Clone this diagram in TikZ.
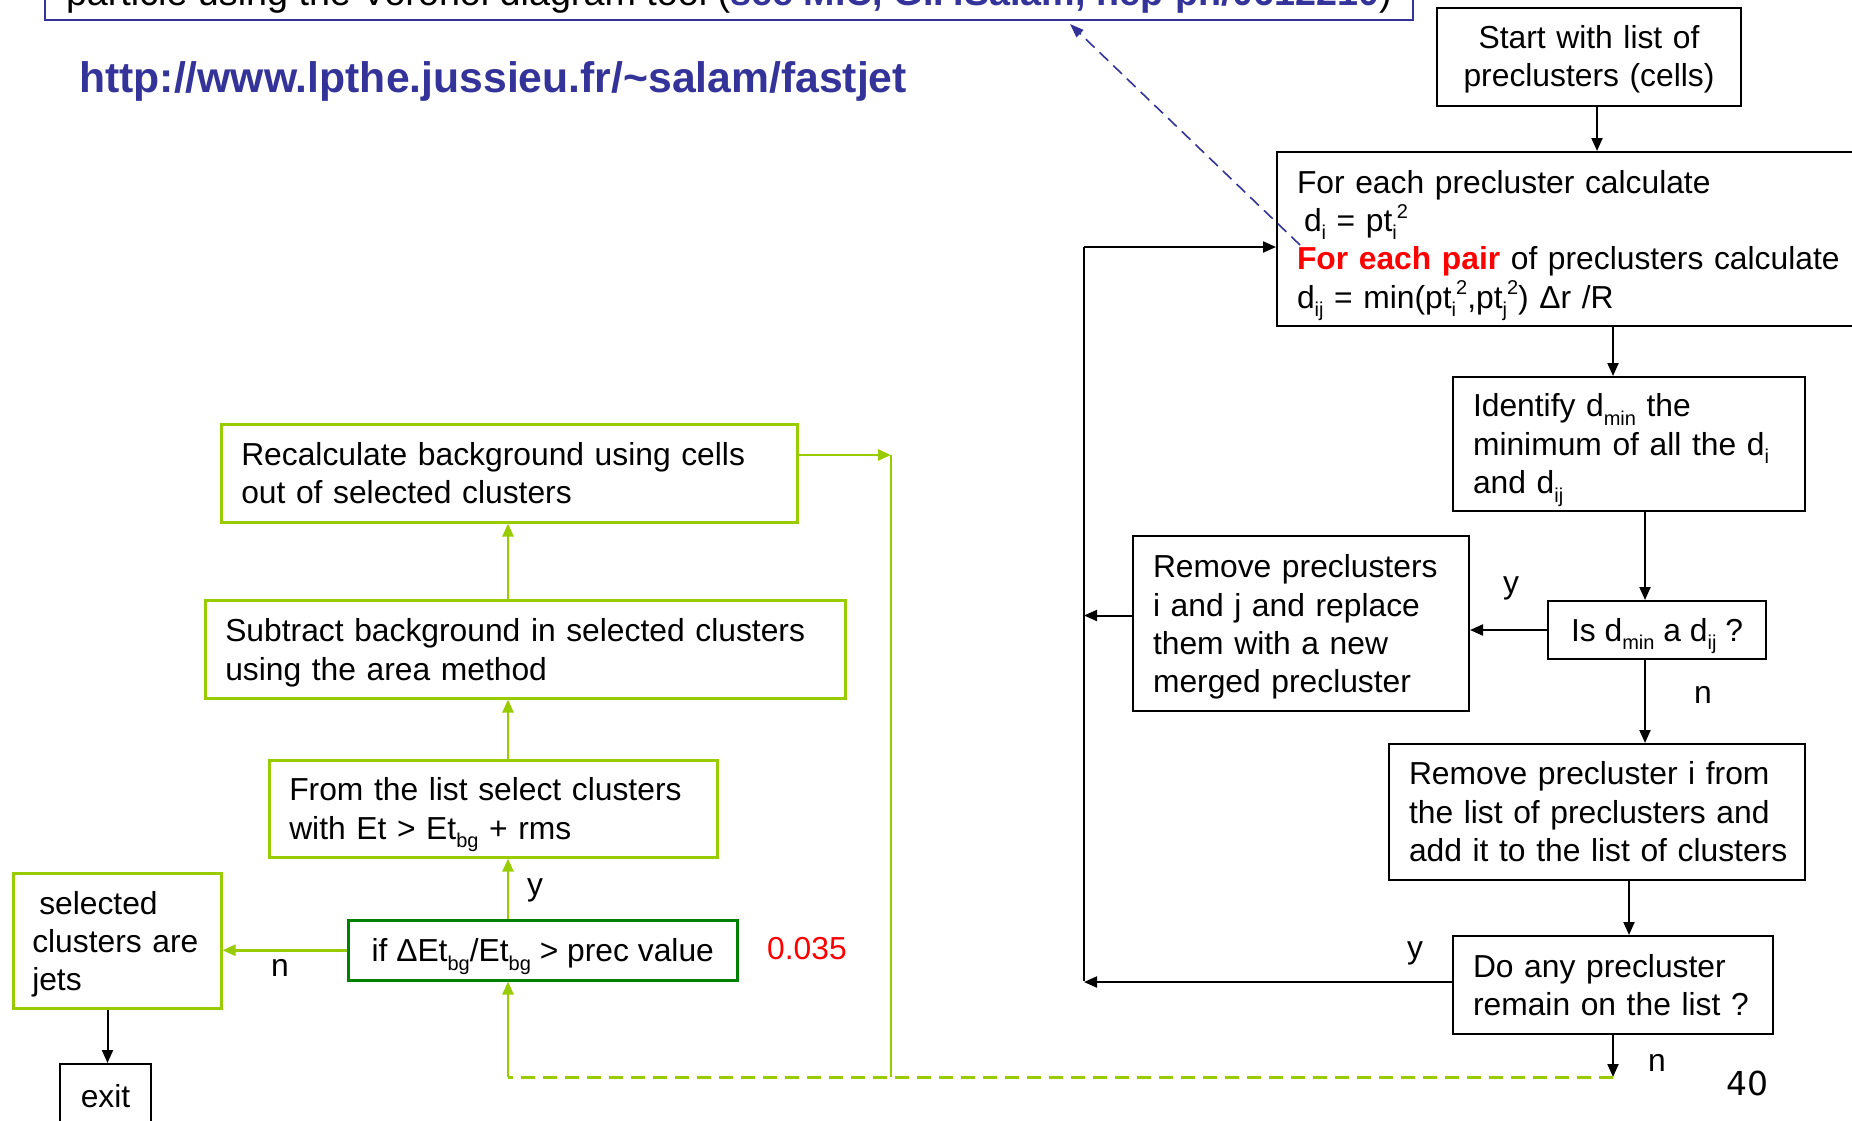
\documentclass[tikz,border=0pt]{standalone}
\usepackage{fontspec}
\setmainfont{Liberation Sans}
\newfontfamily\pagenumfont{DejaVu Sans}
\usetikzlibrary{arrows.meta,calc}

\definecolor{leaf}{RGB}{153,204,0}
\definecolor{deepgreen}{RGB}{0,128,0}
\definecolor{linkblue}{RGB}{51,51,153}
\definecolor{hotred}{RGB}{255,0,0}

% small raised / lowered indices in the body font, kept out of the line height
\newcommand\lowx[1]{\raisebox{-0.26em}[0pt][0pt]{\fontsize{20}{20}\selectfont #1}}
\newcommand\highx[1]{\raisebox{0.42em}[0pt][0pt]{\fontsize{20}{20}\selectfont #1}}
% invisible strut that lowers a centred text block a little
\newcommand\topstrut[1]{\rule{0pt}{#1}}

\tikzset{
  txt/.style={font=\fontsize{31.8}{38.4}\selectfont},
  box/.style={txt, draw=black, line width=2pt, anchor=north west,
              inner xsep=20pt, inner ysep=0pt, align=left},
  gbox/.style={box, draw=leaf, line width=2.5pt},
  arr/.style={draw=black, line width=2pt, -{Triangle[length=13pt,width=11pt]}},
  plainline/.style={draw=black, line width=2pt},
  garr/.style={draw=leaf, line width=2.5pt, -{Triangle[length=13pt,width=11pt]}},
  gline/.style={draw=leaf, line width=2.5pt},
  gdash/.style={draw=leaf, line width=3pt, dash pattern=on 14pt off 8pt},
  bdash/.style={draw=linkblue, line width=1.6pt, dash pattern=on 12pt off 7pt,
                -{Triangle[length=14pt,width=10pt]}},
  lbl/.style={txt, inner sep=0pt},
}

\begin{document}
\begin{tikzpicture}[x=1pt, y=-1pt]
\useasboundingbox (0,0) rectangle (1852,1120);
\clip (0,0) rectangle (1852,1120);

% note frame running off the top edge
\node[draw=linkblue, line width=2pt, anchor=south west, minimum width=1359pt,
      inner xsep=21pt, inner ysep=7pt, font=\fontsize{37.7}{44}\selectfont]
  (note) at (44,21)
  {particle using the Voronoi diagram tool (\textcolor{linkblue}{\bfseries see M.C, G.P.Salam, hep-ph/0612210})};

\node[anchor=base west, inner sep=0pt, text=linkblue,
      font=\fontsize{42.7}{50}\selectfont\bfseries] (url) at (79,92)
  {http://www.lpthe.jussieu.fr/\textasciitilde salam/fastjet};

% clustering loop
\node[box, text width=264pt, minimum height=98pt, align=center] (start) at (1436,7)
  {\topstrut{28pt}Start with list of\\preclusters (cells)};
\node[box, text width=560pt, minimum height=174pt] (calc) at (1276,151)
  {\topstrut{30pt}For each precluster calculate\\
   \hspace*{7pt}d\lowx{i} = pt\lowx{i}\highx{2}\\
   \mbox{\textcolor{hotred}{\bfseries For each pair} of preclusters calculate}\\
   \mbox{d\lowx{ij} = min(pt\lowx{i}\highx{2},pt\lowx{j}\highx{2}) Δr /R}};
\node[box, text width=312pt, minimum height=134pt] (ident) at (1452,376)
  {Identify d\lowx{min} the\\\mbox{minimum of all the d\lowx{i}}\\and d\lowx{ij}};
\node[box, minimum width=218pt, minimum height=58pt, align=center] (isd) at (1547,600)
  {Is d\lowx{min} a d\lowx{ij} ?};
\node[box, text width=296pt, minimum height=175pt] (merge) at (1132,535)
  {\topstrut{30pt}\mbox{Remove preclusters}\\i and j and replace\\them with a new\\\mbox{merged precluster}};
\node[box, text width=376pt, minimum height=136pt] (move) at (1388,743)
  {\mbox{Remove precluster i from}\\\mbox{the list of preclusters and}\\\mbox{add it to the list of clusters}};
\node[box, text width=280pt, minimum height=98pt] (remain) at (1452,935)
  {Do any precluster\\\mbox{remain on the list ?}};

% background subtraction loop
\node[gbox, text width=536pt, minimum height=98pt] (recalc) at (220,423)
  {Recalculate background using cells\\out of selected clusters};
\node[gbox, text width=600pt, minimum height=98pt] (subtr) at (204,599)
  {\topstrut{30pt}\mbox{Subtract background in selected clusters}\\using the area method};
\node[gbox, text width=408pt, minimum height=97pt] (sel) at (268,759)
  {\mbox{From the list select clusters}\\with Et > Et\lowx{bg} + rms};
\node[gbox, draw=deepgreen, minimum width=389pt, minimum height=60pt, align=center] (cond) at (347,919)
  {\topstrut{30pt}if ΔEt\lowx{bg}/Et\lowx{bg} > prec value};
\node[gbox, inner xsep=19pt, text width=170pt, minimum height=135pt] (jets) at (12,872)
  {\topstrut{30pt}\hspace*{7pt}selected\\\mbox{clusters are}\\jets};
\node[box, minimum width=91pt, minimum height=64pt, align=center] (exit) at (59,1063)
  {exit};

% connectors of the clustering loop
\draw[arr] ([xshift=8pt]start.south) -- ([xshift=8pt]start.south |- calc.north);
\draw[arr] ([xshift=-16pt]ident.north |- calc.south) -- ([xshift=-16pt]ident.north);
\draw[arr] ([xshift=-12pt]isd.north |- ident.south) -- ([xshift=-12pt]isd.north);
\draw[arr] (isd.west) -- (isd.west -| merge.east);
\draw[arr] ([xshift=-12pt]isd.south) -- ([xshift=-12pt]isd.south |- move.north);
\draw[arr] ([xshift=16pt]remain.north |- move.south) -- ([xshift=16pt]remain.north);

\coordinate (looptop) at (1084,247);
\coordinate (loopbot) at (1084,981);
\draw[plainline] (loopbot) -- (looptop);
\draw[arr] (looptop) -- (looptop -| calc.west);
\draw[arr] ([yshift=8pt]merge.west) -- ([yshift=8pt]merge.west -| looptop);
\draw[arr] ([yshift=3pt]remain.west) -- ([yshift=3pt]remain.west -| loopbot);

\coordinate (dashy) at (0,1077);
\draw[arr] (remain.south) -- (remain.south |- dashy);

% connectors of the background loop
\coordinate (gx) at (508,0);
\coordinate (gr) at (891,455);
\draw[gdash] (remain.south |- dashy) -- (gx |- dashy);
\draw[garr] (gx |- dashy) -- (gx |- cond.south);
\draw[gline] (gr) -- (gr |- dashy);
\draw[garr] (recalc.east |- gr) -- (gr);
\draw[garr] (gx |- cond.north) -- (gx |- sel.south);
\draw[garr] (gx |- sel.north) -- (gx |- subtr.south);
\draw[garr] (gx |- subtr.north) -- (gx |- recalc.south);
\draw[garr] (cond.west) -- (cond.west -| jets.east);
\draw[arr] ([xshift=2pt]exit.north |- jets.south) -- ([xshift=2pt]exit.north);

% pointer from the pair distance to the note
\coordinate (ptr) at (1300,245);
\coordinate (ptrend) at (1070,24);
\draw[bdash] (ptr) -- (ptrend);

% branch labels
\node[lbl] (ly1) at (1511,588) {y};
\node[lbl] (ln1) at (1703,695) {n};
\node[lbl] (ly2) at (1415,953) {y};
\node[lbl] (ln2) at (1657,1063) {n};
\node[lbl] (ly3) at (535,890) {y};
\node[lbl] (ln3) at (280,968) {n};
\node[lbl, text=hotred] (prec) at (807,949) {0.035};
\node[inner sep=0pt, font=\pagenumfont\fontsize{33}{36}\selectfont] (pagenum) at (1747,1083) {40};
\end{tikzpicture}
\end{document}
